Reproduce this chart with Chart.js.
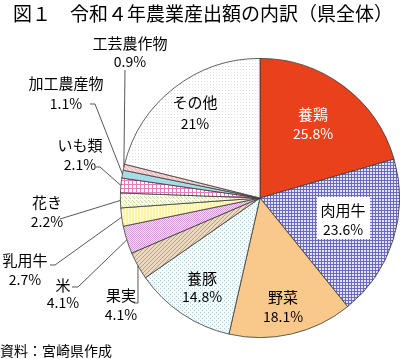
<!DOCTYPE html>
<html>
<head>
<meta charset="utf-8">
<script src="https://cdn.jsdelivr.net/npm/chart.js@4"></script>
<style>
  html, body { margin: 0; padding: 0; background: #fff; }
  #wrap { position: relative; width: 400px; height: 359px; }
</style>
</head>
<body>
<div id="wrap"><canvas id="pie" width="400" height="359"></canvas></div>
<script>
// 品目
const categories = ['養鶏', '肉用牛', '野菜', '養豚', '果実', '米', '乳用牛', '花き', 'いも類', '加工農産物', '工芸農作物', 'その他'];
// 扇形の大きさ（図から読み取った割合）
const sliceShares = [20.4, 18.6, 14.3, 11.7, 3.2, 3.2, 2.1, 1.7, 1.7, 0.9, 0.7, 21];
// 図中に表示されている構成比
const percentLabels = ['25.8%', '23.6%', '18.1%', '14.8%', '4.1%', '4.1%', '2.7%', '2.2%', '2.1%', '1.1%', '0.9%', '21%'];

const FONT = '"Noto Sans CJK JP", "Noto Sans", sans-serif';

function makePattern(w, h, bg, draw) {
    const c = document.createElement('canvas');
    c.width = w;
    c.height = h;
    const g = c.getContext('2d');
    g.fillStyle = bg;
    g.fillRect(0, 0, w, h);
    if (draw) draw(g);
    return g.createPattern(c, 'repeat');
}

const fills = [
    '#E8411B',
    makePattern(3, 3, '#E4E4F6', g => { g.fillStyle = '#6A6AC0'; g.fillRect(0, 0, 3, 1); g.fillRect(0, 0, 1, 3); }),
    '#F9C98B',
    makePattern(4, 4, '#F4FBFC', g => { g.fillStyle = '#9AD2DE'; g.fillRect(0, 0, 1, 1); g.fillRect(2, 2, 1, 1); }),
    makePattern(4, 4, '#E9D8C2', g => { g.fillStyle = '#BFA07E'; for (let i = 0; i < 4; i++) g.fillRect(i, 3 - i, 1, 1); }),
    makePattern(2, 2, '#F3DEF3', g => { g.fillStyle = '#D69AD8'; g.fillRect(0, 0, 1, 1); g.fillRect(1, 1, 1, 1); }),
    makePattern(3, 1, '#FFF4A6', g => { g.fillStyle = '#FFFCDC'; g.fillRect(2, 0, 1, 1); }),
    makePattern(4, 4, '#FAFCEA', g => { g.fillStyle = '#C9DC9C'; g.fillRect(0, 0, 1, 1); g.fillRect(2, 2, 1, 1); g.fillRect(1, 1, 1, 1); }),
    makePattern(4, 4, '#FFFFFF', g => { g.fillStyle = '#E07EC0'; g.fillRect(0, 0, 4, 1); g.fillRect(0, 0, 1, 4); }),
    '#A6DBE8',
    makePattern(4, 4, '#F7C2C2', g => { g.fillStyle = '#FFE8E8'; for (let i = 0; i < 4; i++) g.fillRect(i, i, 1, 1); }),
    makePattern(3, 3, '#FFFFFF', g => { g.fillStyle = '#E0E0E0'; g.fillRect(0, 0, 1, 1); })
];

// ラベルの配置（文字の中心）と引出線の起点
const labelLayout = [
    { x: 313, y: 114, y2: 134, color: '#fff' },
    { x: 343, y: 210, y2: 230, box: [317, 197, 53, 42] },
    { x: 283, y: 297, y2: 317 },
    { x: 202, y: 278, y2: 297 },
    { x: 121, y: 295, y2: 315, lead: [[134, 303], [138, 303]] },
    { x: 63, y: 285, y2: 303, lead: [[72, 287], [78, 287]] },
    { x: 25, y: 260, y2: 280, lead: [[50, 265], [55, 265]] },
    { x: 47, y: 202, y2: 222, lead: [[60, 219]] },
    { x: 80, y: 145, y2: 165, lead: [[96, 167], [100, 167]] },
    { x: 66, y: 83, y2: 104, lead: [[90, 104], [95, 104]] },
    { x: 130, y: 43, y2: 62, lead: [[125, 70]] },
    { x: 195, y: 102, y2: 124 }
];

const labelPlugin = {
    id: 'pieLabels',
    afterDraw(chart) {
        const ctx = chart.ctx;
        const arcs = chart.getDatasetMeta(0).data;
        ctx.save();

        ctx.fillStyle = '#000';
        ctx.textBaseline = 'middle';
        ctx.textAlign = 'left';
        ctx.font = '19px ' + FONT;
        ctx.fillText('図１　令和４年農業産出額の内訳（県全体）', 13, 14);
        ctx.font = '14px ' + FONT;
        ctx.fillText('資料：宮崎県作成', 0, 351);

        arcs.forEach((arc, i) => {
            const p = labelLayout[i];
            if (p.lead) {
                const mid = (arc.startAngle + arc.endAngle) / 2;
                const ex = arc.x + Math.cos(mid) * arc.outerRadius;
                const ey = arc.y + Math.sin(mid) * arc.outerRadius;
                ctx.strokeStyle = '#444';
                ctx.lineWidth = 0.9;
                ctx.beginPath();
                ctx.moveTo(p.lead[0][0], p.lead[0][1]);
                for (let k = 1; k < p.lead.length; k++) ctx.lineTo(p.lead[k][0], p.lead[k][1]);
                ctx.lineTo(ex, ey);
                ctx.stroke();
            }
            if (p.box) {
                ctx.fillStyle = '#fff';
                ctx.fillRect(p.box[0], p.box[1], p.box[2], p.box[3]);
            }
            ctx.fillStyle = p.color || '#000';
            ctx.textAlign = 'center';
            ctx.font = '15px ' + FONT;
            ctx.fillText(categories[i], p.x, p.y);
            ctx.font = '14px ' + FONT;
            ctx.fillText(percentLabels[i], p.x, p.y2);
        });
        ctx.restore();
    }
};

new Chart(document.getElementById('pie').getContext('2d'), {
    type: 'pie',
    data: {
        labels: categories,
        datasets: [{
            data: sliceShares,
            backgroundColor: fills,
            borderColor: '#3a3a3a',
            borderWidth: 0.8,
            hoverOffset: 0
        }]
    },
    options: {
        responsive: false,
        animation: false,
        layout: { padding: { left: 120, right: 0, top: 58, bottom: 21 } },
        plugins: {
            legend: { display: false },
            tooltip: { enabled: false }
        }
    },
    plugins: [labelPlugin]
});
</script>
</body>
</html>
